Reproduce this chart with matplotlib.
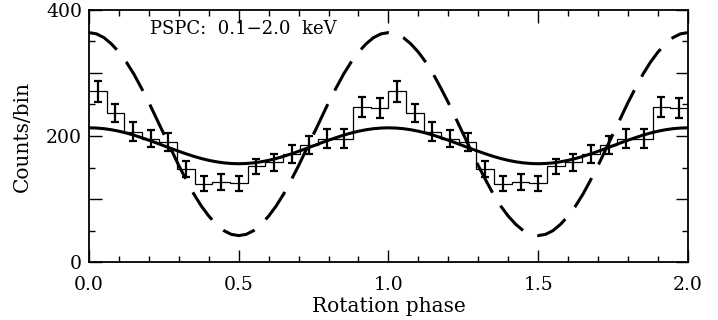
import numpy as np
import matplotlib
matplotlib.use("Agg")
import matplotlib.pyplot as plt
from matplotlib.ticker import MultipleLocator, FuncFormatter, FormatStrFormatter

# ---- data (one rotation, 17 phase bins) ----
counts = [271, 237, 207, 196, 190, 148, 124, 127, 125, 152, 158, 171, 186, 196, 196, 246, 245]
errors = [17, 14, 15, 14, 14, 13, 12, 12, 11.5, 12, 13, 14, 14, 15, 15, 16, 16]
n_bins = 17
n_cycles = 2

# model curves tabulated at phase 0.000..0.500 (step 0.025); symmetric about 0.5
model_phase_half = [0.000, 0.025, 0.050, 0.075, 0.100, 0.125, 0.150, 0.175, 0.200, 0.225,
                    0.250, 0.275, 0.300, 0.325, 0.350, 0.375, 0.400, 0.425, 0.450, 0.475, 0.500]
solid_half = [213, 212.6, 211.6, 209.9, 207.6, 204.7, 201.3, 197.4, 193.3, 189.0,
              184.5, 180.0, 175.7, 171.6, 167.7, 164.3, 161.4, 159.1, 157.4, 156.4, 156]
dashed_half = [364, 362, 356, 346, 333, 317, 298, 276, 253, 228,
               203, 178, 153, 130, 108, 89, 73, 60, 50, 44, 42]

y_labelled_ticks = [0, 200, 400]
label_text = "PSPC:  0.1\u22122.0  keV"
xlabel = "Rotation phase"
ylabel = "Counts/bin"

# ---- build arrays ----
c = np.array(counts * n_cycles, dtype=float)
e = np.array(errors * n_cycles, dtype=float)
edges = np.arange(n_bins * n_cycles + 1) / n_bins
centers = 0.5 * (edges[:-1] + edges[1:])

ph_half = np.array(model_phase_half)
ph_one = np.concatenate([ph_half, 1.0 - ph_half[::-1][1:]])
sol_one = np.concatenate([solid_half, solid_half[::-1][1:]])
dsh_one = np.concatenate([dashed_half, dashed_half[::-1][1:]])
ph = np.concatenate([ph_one, 1.0 + ph_one[1:]])
sol = np.concatenate([sol_one, sol_one[1:]])
dsh = np.concatenate([dsh_one, dsh_one[1:]])

plt.rcParams['font.family'] = ['DejaVu Serif']

fig = plt.figure(figsize=(7.18, 3.20), dpi=100)
ax = fig.add_axes([0.124, 0.181, 0.834, 0.788])

ax.stairs(c, edges, color='black', linewidth=0.9, baseline=None)
ax.errorbar(centers, c, yerr=e, fmt='none', ecolor='black', elinewidth=1.6,
            capsize=2.7, capthick=1.6)
ax.plot(ph, sol, color='black', linewidth=2.2, solid_capstyle='round')
ax.plot(ph, dsh, color='black', linewidth=2.2, linestyle=(0, (11, 5)))

ax.set_xlim(0, 2.0)
ax.set_ylim(0, 400)
ax.xaxis.set_major_locator(MultipleLocator(0.5))
ax.xaxis.set_minor_locator(MultipleLocator(0.1))
ax.yaxis.set_major_locator(MultipleLocator(100))
ax.yaxis.set_minor_locator(MultipleLocator(50))
ax.xaxis.set_major_formatter(FormatStrFormatter('%.1f'))
ax.yaxis.set_major_formatter(FuncFormatter(
    lambda v, p: f"{v:.0f}" if round(v) in y_labelled_ticks else ""))
ax.tick_params(which='both', direction='in', top=True, right=True, width=1.0,
               labelsize=13.5)
ax.tick_params(axis='x', which='major', pad=10)
ax.tick_params(axis='y', which='major', pad=5)
ax.tick_params(which='major', length=9)
ax.tick_params(which='minor', length=4.5)
for s in ax.spines.values():
    s.set_linewidth(1.3)

ax.set_xlabel(xlabel, fontsize=14.5, labelpad=2)
ax.set_ylabel(ylabel, fontsize=14.5, labelpad=10)
ax.text(0.102, 0.925, label_text, transform=ax.transAxes, fontsize=13,
        ha='left', va='center')

fig.savefig("out.png", dpi=100)
